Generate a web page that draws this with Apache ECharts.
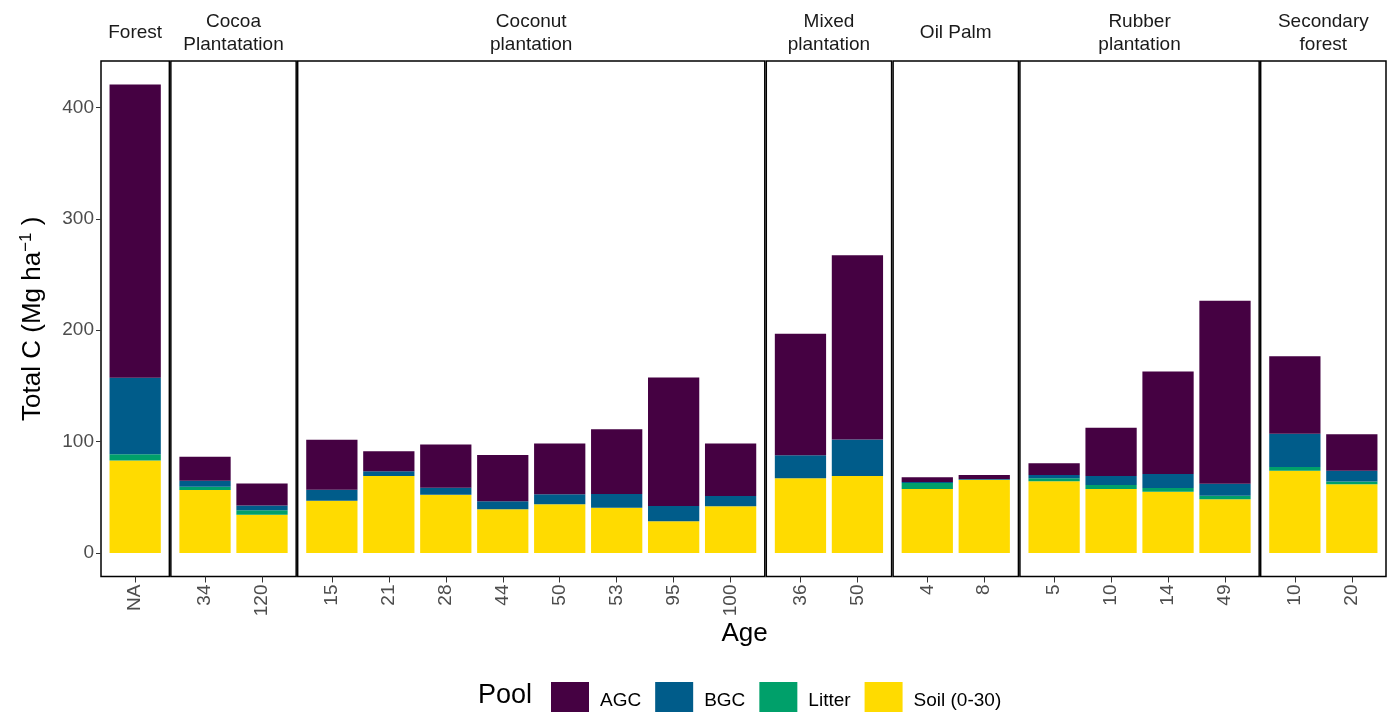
<!DOCTYPE html>
<html>
<head>
<meta charset="utf-8">
<script src="https://cdn.jsdelivr.net/npm/echarts@6/dist/echarts.min.js"></script>
<style>
  html, body { margin: 0; padding: 0; background: #ffffff; }
  #chart { width: 1390px; height: 712px; }
</style>
</head>
<body>
<div id="chart"></div>
<script>
// Land-use facets and the stand ages shown under each one
const panels = ['Forest', 'Cocoa\nPlantatation', 'Coconut\nplantation', 'Mixed\nplantation',
                'Oil Palm', 'Rubber\nplantation', 'Secondary\nforest'];
const ages = [
  ['NA'],
  ['34', '120'],
  ['15', '21', '28', '44', '50', '53', '95', '100'],
  ['36', '50'],
  ['4', '8'],
  ['5', '10', '14', '49'],
  ['10', '20']
];

// Carbon stock per pool (Mg ha-1), one value per bar, facets in order
const soil   = [83, 56.6, 34.3, 47, 69.2, 52.4, 39.3, 43.8, 40.7, 28.5, 42, 67.1, 69.2, 57.5, 65.9, 64.4, 57.5, 55.1, 48.3, 73.8, 61.7];
const litter = [5.8, 3, 4.1, 0, 0, 0, 0, 0, 0, 0, 0, 0, 0, 5.3, 0, 2.7, 3.6, 3.3, 3.2, 3.4, 2.5];
const bgc    = [68.5, 5.2, 4.4, 9.9, 4.2, 6.3, 7.1, 8.9, 12.3, 13.7, 9.2, 20.7, 32.7, 1, 0.5, 3, 8.1, 12.6, 10.8, 29.8, 9.6];
const agc    = [263.3, 21.6, 19.6, 44.9, 18, 38.7, 41.6, 45.6, 58.2, 115.4, 47.1, 109.1, 165.4, 4.2, 3.7, 10.5, 43.2, 92, 164.2, 69.7, 32.9];

const yTicks = [0, 100, 200, 300, 400];

// Pools in stacking order (bottom first)
const pools = [
  { name: 'Soil (0-30)', values: soil,   color: '#FFDB00' },
  { name: 'Litter',      values: litter, color: '#00A06A' },
  { name: 'BGC',         values: bgc,    color: '#005C8A' },
  { name: 'AGC',         values: agc,    color: '#450142' }
];
const legendOrder = ['AGC', 'BGC', 'Litter', 'Soil (0-30)'];

const FONT = '"Liberation Sans", Arial, Helvetica, sans-serif';

// Panel geometry: widths proportional to the number of bars plus 0.6 units padding each side
const plotLeft = 101, plotRight = 1386, plotTop = 61, plotBottom = 576.5, gap = 1.5;
const units = ages.map(a => a.length + 0.2);
const u = (plotRight - plotLeft - gap * (panels.length - 1)) / units.reduce((s, v) => s + v, 0);

// Value range with 5% expansion on both ends
const totals = soil.map((_, k) => soil[k] + litter[k] + bgc[k] + agc[k]);
const maxTotal = Math.max(...totals);
const yMin = -0.05 * maxTotal, yMax = maxTotal * 1.05;

const frames = [];
let cursor = plotLeft;
units.forEach(w => {
  frames.push({ left: cursor, width: w * u });
  cursor += w * u + gap;
});

const P = panels.length;
const grid = [], xAxis = [], yAxis = [], series = [];

// Data grids (0..P-1): inset by 0.1 unit so each category band is exactly one unit wide
frames.forEach((f, i) => {
  grid.push({ left: f.left + 0.1 * u, width: ages[i].length * u, top: plotTop, height: plotBottom - plotTop, show: false });
  xAxis.push({
    type: 'category', gridIndex: i, data: ages[i], position: 'bottom',
    axisLine: { show: false, onZero: false },
    axisTick: { show: true, alignWithLabel: true, length: 6, lineStyle: { color: '#333333', width: 1 } },
    axisLabel: { rotate: 90, interval: 0, fontSize: 19, color: '#4d4d4d', margin: 8, fontFamily: FONT },
    splitLine: { show: false }
  });
  yAxis.push({ type: 'value', gridIndex: i, min: yMin, max: yMax, show: false });
});

// Frame grids (P..2P-1): panel borders, strip titles, and the shared y scale
frames.forEach((f, i) => {
  grid.push({ left: f.left, width: f.width, top: plotTop, height: plotBottom - plotTop,
              show: true, borderColor: '#000000', borderWidth: 1.5, backgroundColor: 'transparent' });
  xAxis.push({
    type: 'category', gridIndex: P + i, data: [panels[i]], position: 'top',
    axisLine: { show: false, onZero: false }, axisTick: { show: false }, splitLine: { show: false },
    axisLabel: { interval: 0, fontSize: 19, color: '#1a1a1a', lineHeight: 23, margin: 28,
                 verticalAlign: 'middle', fontFamily: FONT }
  });
  const first = i === 0;
  yAxis.push({
    type: 'value', gridIndex: P + i, min: yMin, max: yMax, show: first,
    axisLine: { show: false },
    splitLine: { show: false },
    axisTick: { show: first, customValues: yTicks, length: 5, lineStyle: { color: '#333333', width: 1 } },
    axisLabel: { show: first, customValues: yTicks, fontSize: 19, color: '#4d4d4d', margin: 7, fontFamily: FONT },
    name: first ? 'Total C (Mg ha{sup|−1} )' : '',
    nameLocation: 'middle', nameRotate: 90, nameGap: 53,
    nameTextStyle: {
      fontSize: 26, color: '#000000', fontFamily: FONT,
      rich: { sup: { fontSize: 17, color: '#000000', fontFamily: FONT, verticalAlign: 'top', lineHeight: 30 } }
    }
  });
});

// Stacked bars, one stack per facet
let offset = 0;
ages.forEach((a, i) => {
  pools.forEach(p => {
    series.push({
      type: 'bar', name: p.name, xAxisIndex: i, yAxisIndex: i, stack: 'panel' + i,
      barWidth: '90%', data: p.values.slice(offset, offset + a.length),
      itemStyle: { color: p.color }, emphasis: { disabled: true }, silent: true
    });
  });
  offset += a.length;
});

const chart = echarts.init(document.getElementById('chart'), null, { renderer: 'canvas' });
chart.setOption({
  backgroundColor: '#ffffff',
  animation: false,
  textStyle: { fontFamily: FONT },
  grid, xAxis, yAxis, series,
  legend: {
    data: legendOrder, left: 546, top: 677, orient: 'horizontal',
    icon: 'rect', itemWidth: 38, itemHeight: 38, itemGap: 14, selectedMode: false,
    textStyle: { fontSize: 19, color: '#000000', fontFamily: FONT, padding: [0, 0, 0, 6] }
  },
  graphic: [
    { type: 'text', left: (plotLeft + plotRight) / 2 - 22, top: 621,
      style: { text: 'Age', fontSize: 26, fill: '#000000', fontFamily: FONT } },
    { type: 'text', left: 478, top: 682,
      style: { text: 'Pool', fontSize: 27, fill: '#000000', fontFamily: FONT } }
  ]
});
</script>
</body>
</html>
